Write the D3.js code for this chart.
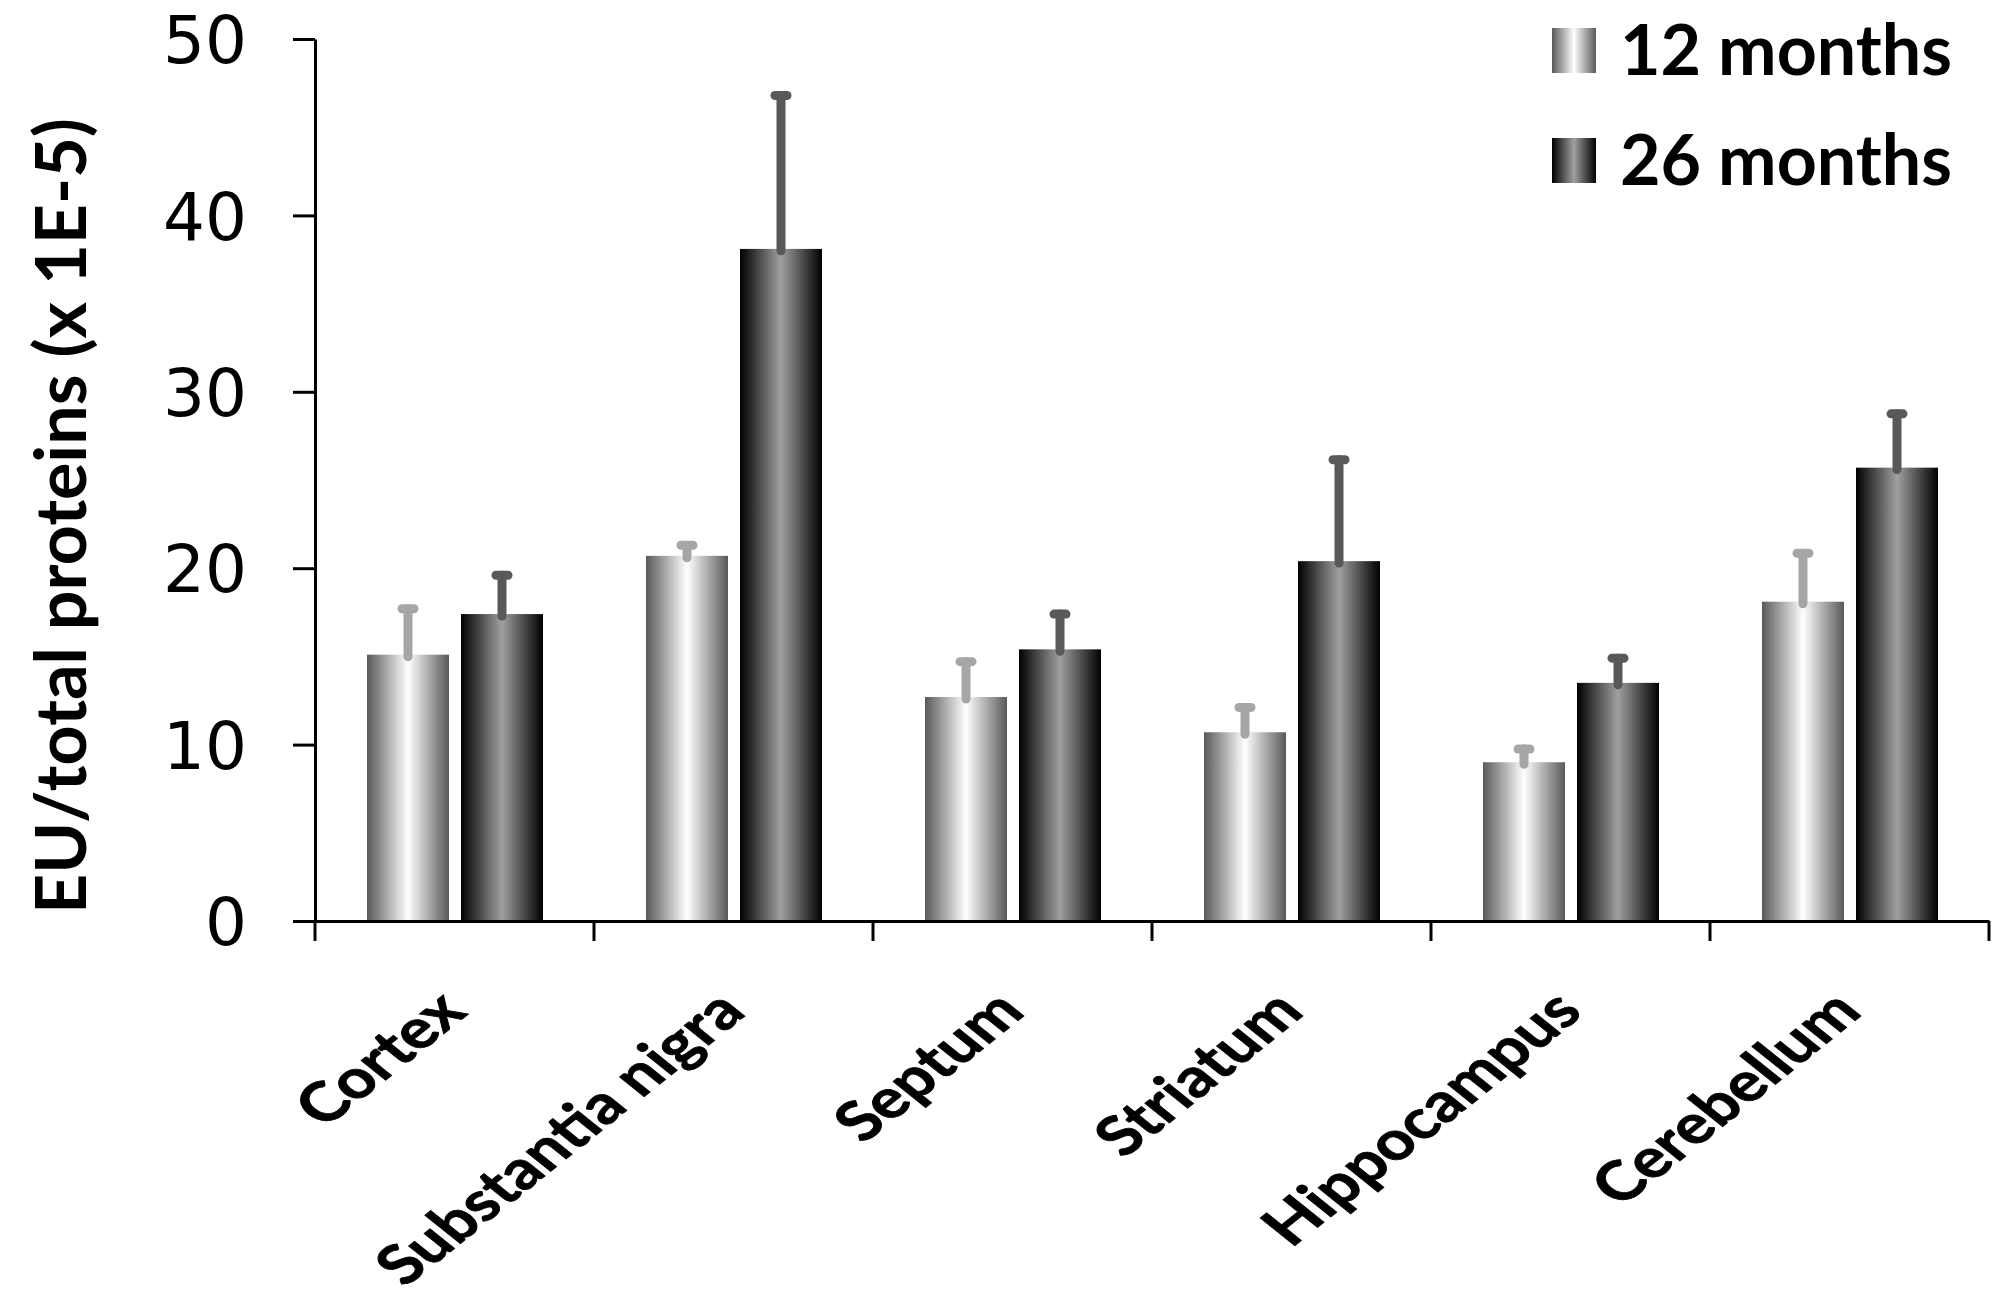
<!DOCTYPE html>
<html>
<head>
<meta charset="utf-8">
<script src="https://cdn.jsdelivr.net/npm/d3@7"></script>
<style>
  html, body { margin: 0; padding: 0; background: #fff; }
  svg { display: block; }
</style>
</head>
<body>
<svg id="chart" width="2010" height="1310"></svg>
<script>
// ---- data ----
const categories = ["Cortex", "Substantia nigra", "Septum", "Striatum", "Hippocampus", "Cerebellum"];
const seriesNames = ["12 months", "26 months"];
const values12 = [15.1, 20.7, 12.7, 10.7, 9.0, 18.1];
const errors12 = [2.6, 0.6, 2.0, 1.4, 0.75, 2.75];
const values26 = [17.4, 38.1, 15.4, 20.4, 13.5, 25.7];
const errors26 = [2.2, 8.7, 2.0, 5.75, 1.4, 3.05];
const yTicks = [0, 10, 20, 30, 40, 50];
const yLabel = "EU/total proteins (x 1E-5)";

const svg = d3.select("#chart");
const boldFont = "Lato, 'Open Sans', sans-serif";

// gradients
const defs = svg.append("defs");
function grad(id, edge, mid) {
  const g = defs.append("linearGradient").attr("id", id)
    .attr("x1", "0%").attr("x2", "100%").attr("y1", "0%").attr("y2", "0%");
  g.append("stop").attr("offset", "0%").attr("stop-color", edge);
  g.append("stop").attr("offset", "50%").attr("stop-color", mid);
  g.append("stop").attr("offset", "100%").attr("stop-color", edge);
}
grad("g12", "#595959", "#ffffff");
grad("g26", "#000000", "#a0a0a0");

const series = [
  { name: seriesNames[0], values: values12, errors: errors12, fill: "url(#g12)", errColor: "#a6a6a6" },
  { name: seriesNames[1], values: values26, errors: errors26, fill: "url(#g26)", errColor: "#595959" }
];

const x = d3.scaleBand().domain(categories).range([315, 1989]).paddingInner(0).paddingOuter(0);
const xs = d3.scaleBand().domain([0, 1]).range([52, 228]).paddingInner(0.1277).paddingOuter(0);
const y = d3.scaleLinear().domain([0, 50]).range([921, 39]);

// bars
series.forEach((s, si) => {
  const g = svg.append("g");
  g.selectAll("rect").data(categories).join("rect")
    .attr("x", c => x(c) + xs(si))
    .attr("width", xs.bandwidth())
    .attr("y", (c, i) => y(s.values[i]))
    .attr("height", (c, i) => y(0) - y(s.values[i]))
    .attr("fill", s.fill);
  // error bars
  const cx = c => x(c) + xs(si) + xs.bandwidth() / 2;
  g.selectAll("line.v").data(categories).join("line").attr("class", "v")
    .attr("x1", cx).attr("x2", cx)
    .attr("y1", (c, i) => y(s.values[i]) + 2)
    .attr("y2", (c, i) => y(s.values[i] + s.errors[i]))
    .attr("stroke", s.errColor).attr("stroke-width", 9).attr("stroke-linecap", "round");
  g.selectAll("line.c").data(categories).join("line").attr("class", "c")
    .attr("x1", c => cx(c) - 6).attr("x2", c => cx(c) + 6)
    .attr("y1", (c, i) => y(s.values[i] + s.errors[i]))
    .attr("y2", (c, i) => y(s.values[i] + s.errors[i]))
    .attr("stroke", s.errColor).attr("stroke-width", 9).attr("stroke-linecap", "round");
});

// y axis
const yAxis = svg.append("g").attr("transform", "translate(315,0)")
  .call(d3.axisLeft(y).tickValues(yTicks).tickSize(22).tickPadding(46).tickSizeOuter(0));
yAxis.select(".domain").attr("stroke", "#000").attr("stroke-width", 3);
yAxis.selectAll(".tick line").attr("stroke", "#000").attr("stroke-width", 3);
yAxis.selectAll(".tick text").attr("font-family", "'DejaVu Sans', sans-serif")
  .attr("font-size", 66).attr("fill", "#000").attr("dy", "0.36em");

// x axis
const xAxis = svg.append("g").attr("transform", `translate(0,${y(0)})`)
  .call(d3.axisBottom(x).tickSize(0).tickFormat(""));
xAxis.select(".domain").attr("stroke", "#000").attr("stroke-width", 3);
const boundaries = [x.range()[0]].concat(categories.map(c => x(c) + x.bandwidth()));
xAxis.selectAll("line.bt").data(boundaries).join("line").attr("class", "bt")
  .attr("x1", d => d).attr("x2", d => d).attr("y1", 0).attr("y2", 20)
  .attr("stroke", "#000").attr("stroke-width", 3);

// helper to fit font-size to a target length
function fitSize(textSel, target, base) {
  textSel.attr("font-size", base);
  const len = textSel.node().getComputedTextLength();
  const fs = base * target / len;
  textSel.attr("font-size", fs);
  return fs;
}

// y label
const yl = svg.append("text")
  .attr("font-family", boldFont).attr("font-weight", "bold").attr("fill", "#000")
  .attr("text-anchor", "middle")
  .attr("transform", "translate(86,516) rotate(-90)")
  .text(yLabel);
fitSize(yl, 796, 56);

// x labels (the source picture is slightly stretched horizontally)
const xl = svg.append("g").selectAll("text").data(categories).join("text")
  .attr("font-family", boldFont).attr("font-weight", "bold").attr("fill", "#000")
  .attr("stroke", "#000").attr("stroke-width", 0.8)
  .attr("text-anchor", "end")
  .attr("transform", c => `translate(${x(c) + x.bandwidth() / 2 + 14},1014) scale(1.25,1) rotate(-45)`)
  .text(c => c);
const xlSize = fitSize(d3.select(xl.nodes()[1]), 388, 50);
xl.attr("font-size", xlSize);

// legend
const leg = svg.append("g");
const legendY = [28, 138];
series.forEach((s, i) => {
  leg.append("rect").attr("x", 1552).attr("y", legendY[i]).attr("width", 44).attr("height", 45)
    .attr("fill", s.fill);
});
const lt = leg.selectAll("text").data(series).join("text")
  .attr("x", 1620).attr("y", (d, i) => legendY[i] + 47)
  .attr("font-family", boldFont).attr("font-weight", "bold").attr("fill", "#000")
  .text(d => d.name);
const legSize = fitSize(d3.select(lt.nodes()[0]), 332, 70);
lt.attr("font-size", legSize);
</script>
</body>
</html>
